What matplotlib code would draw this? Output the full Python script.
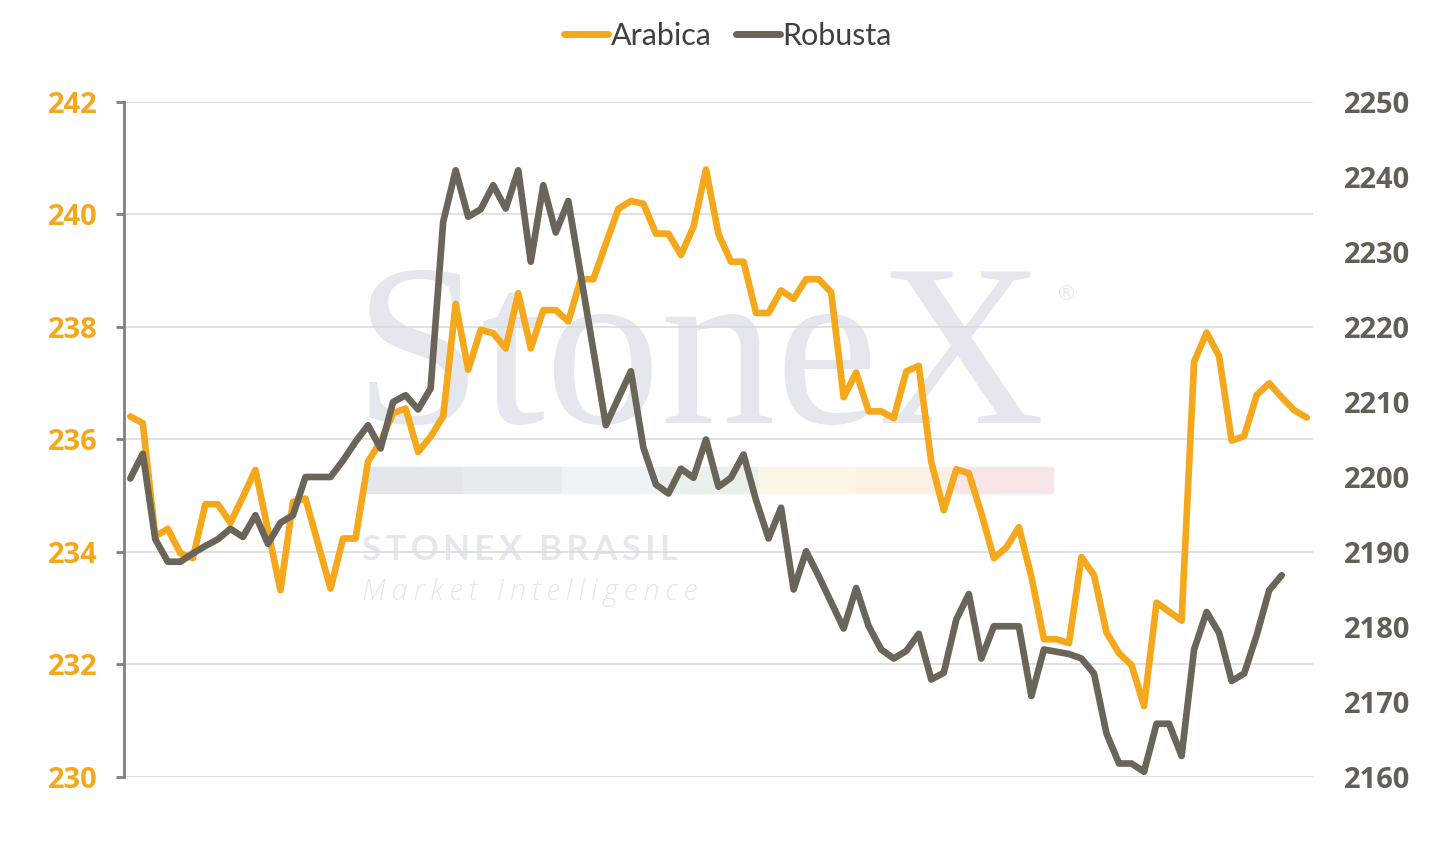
import numpy as np
import matplotlib
matplotlib.use('Agg')
import matplotlib.pyplot as plt
from matplotlib.patches import Rectangle

# values (daily closes)
arabica = [236.41, 236.29, 234.28, 234.41, 233.98, 233.89, 234.85, 234.85, 234.52, 234.98,
           235.46, 234.39, 233.32, 234.89, 234.95, 234.15, 233.35, 234.24, 234.24, 235.61,
           235.96, 236.47, 236.55, 235.78, 236.05, 236.41, 238.41, 237.24, 237.95, 237.89,
           237.62, 238.60, 237.62, 238.30, 238.30, 238.10, 238.85, 238.85, 239.48, 240.10,
           240.24, 240.19, 239.66, 239.66, 239.28, 239.78, 240.80, 239.65, 239.16, 239.16,
           238.25, 238.25, 238.65, 238.50, 238.85, 238.85, 238.62, 236.75, 237.19, 236.50,
           236.50, 236.38, 237.21, 237.31, 235.60, 234.74, 235.47, 235.40, 234.69, 233.89,
           234.08, 234.44, 233.56, 232.45, 232.45, 232.38, 233.91, 233.59, 232.57, 232.20,
           231.99, 231.26, 233.10, 232.94, 232.78, 237.38, 237.90, 237.48, 235.98, 236.06,
           236.79, 237.00, 236.75, 236.52, 236.39]

robusta = [2199.8, 2203.1, 2191.7, 2188.7, 2188.7, 2189.8, 2190.8, 2191.7, 2193.1, 2192.0,
           2194.9, 2191.1, 2193.9, 2194.9, 2200.0, 2200.0, 2200.0, 2202.2, 2204.7, 2206.9,
           2203.8, 2210.0, 2210.9, 2209.0, 2211.8, 2234.0, 2240.9, 2234.7, 2235.7, 2238.9,
           2235.8, 2240.9, 2228.7, 2238.9, 2232.6, 2236.8, 2226.9, 2216.9, 2206.9, 2210.5,
           2214.1, 2203.9, 2199.0, 2197.8, 2201.1, 2199.9, 2205.0, 2198.7, 2199.9, 2203.0,
           2196.9, 2191.8, 2195.9, 2185.0, 2190.1, 2186.8, 2183.3, 2179.8, 2185.2, 2180.1,
           2177.0, 2175.8, 2176.8, 2179.1, 2173.0, 2173.9, 2181.0, 2184.4, 2175.8, 2180.1,
           2180.1, 2180.1, 2170.8, 2177.0, 2176.7, 2176.4, 2175.8, 2173.8, 2165.8, 2161.8,
           2161.8, 2160.7, 2167.1, 2167.1, 2162.8, 2177.0, 2182.0, 2179.2, 2172.8, 2173.8,
           2178.9, 2184.9, 2186.9]

left_ticks = [230, 232, 234, 236, 238, 240, 242]
right_ticks = [2160, 2170, 2180, 2190, 2200, 2210, 2220, 2230, 2240, 2250]

ORANGE = '#F5A81C'
GRAY = '#6B6459'
WM = '#E4E8EE'

W, H = 1453, 842
fig = plt.figure(figsize=(W / 100, H / 100), dpi=100)

def fx(px):
    return px / W

def fy(py):
    return 1 - py / H

ax = fig.add_axes([fx(124), fy(777), fx(1313) - fx(124), fy(102) - fy(777)])
ax.patch.set_visible(False)
ax2 = ax.twinx()

# watermark behind everything
fig.text(fx(354), fy(423), 'StoneX', fontsize=166, family='Liberation Serif',
         color=WM, ha='left', va='baseline', zorder=-5)
fig.text(fx(1055), fy(300), '®', fontsize=15, color=WM, ha='left', va='baseline', zorder=-5)
bar_cols = ['#E3E7EC', '#E6EBF0', '#EEF3F8', '#E8F1EC', '#FBF6E6', '#FDF1E3', '#F8E5E6']
seg = (1053 - 365) / len(bar_cols)
for k, c in enumerate(bar_cols):
    fig.patches.append(Rectangle((fx(365 + k * seg), fy(493)), fx(seg), fy(467) - fy(493),
                                 transform=fig.transFigure, color=c, zorder=-5))
thin = '\u2009'
fig.text(fx(362), fy(560), thin.join('STONEX BRASIL'), fontsize=25,
         family=['Lato', 'DejaVu Sans'], weight='bold', color=WM,
         ha='left', va='baseline', zorder=-5)
fig.text(fx(362), fy(600), thin.join('Market Intelligence'), fontsize=21,
         family=['Open Sans', 'DejaVu Sans'], style='italic', weight='light', color=WM,
         ha='left', va='baseline', zorder=-5)

x_a = np.arange(len(arabica))
x_r = np.arange(len(robusta))
ax.plot(x_a, arabica, color=ORANGE, lw=4.8, solid_joinstyle='round',
        solid_capstyle='round', label='Arabica')
ax2.plot(x_r, robusta, color=GRAY, lw=4.8, solid_joinstyle='round',
         solid_capstyle='round', label='Robusta')

ax.set_xlim(-0.5, len(arabica) - 0.5)
ax.set_ylim(230, 242)
ax2.set_ylim(2160, 2250)
ax.set_yticks(left_ticks)
ax2.set_yticks(right_ticks)
ax.set_xticks([])

ax.set_axisbelow(True)
ax.grid(axis='y', color='#D9D9D9', lw=1.1)

for s in ['top', 'right', 'bottom']:
    ax.spines[s].set_visible(False)
    ax2.spines[s].set_visible(False)
ax2.spines['left'].set_visible(False)
ax.spines['left'].set_color('#808080')
ax.spines['left'].set_linewidth(2)

ax.tick_params(axis='y', length=6, width=2, color='#808080', pad=13,
               labelcolor=ORANGE, labelsize=21)
ax2.tick_params(axis='y', length=0, pad=22, labelcolor='#655E54', labelsize=21)
for lab in ax.get_yticklabels() + ax2.get_yticklabels():
    lab.set_fontfamily('Open Sans')
    lab.set_fontweight('bold')

h1, l1 = ax.get_legend_handles_labels()
h2, l2 = ax2.get_legend_handles_labels()
leg = fig.legend(h1 + h2, l1 + l2, loc='center', bbox_to_anchor=(fx(728), fy(36)),
                 ncol=2, frameon=False, handlelength=1.45, handletextpad=0.08,
                 columnspacing=0.8, prop={'family': 'Lato', 'size': 22})
for line in leg.get_lines():
    line.set_linewidth(5)
for t in leg.get_texts():
    t.set_color('#404040')

fig.savefig('out.png', dpi=100)
